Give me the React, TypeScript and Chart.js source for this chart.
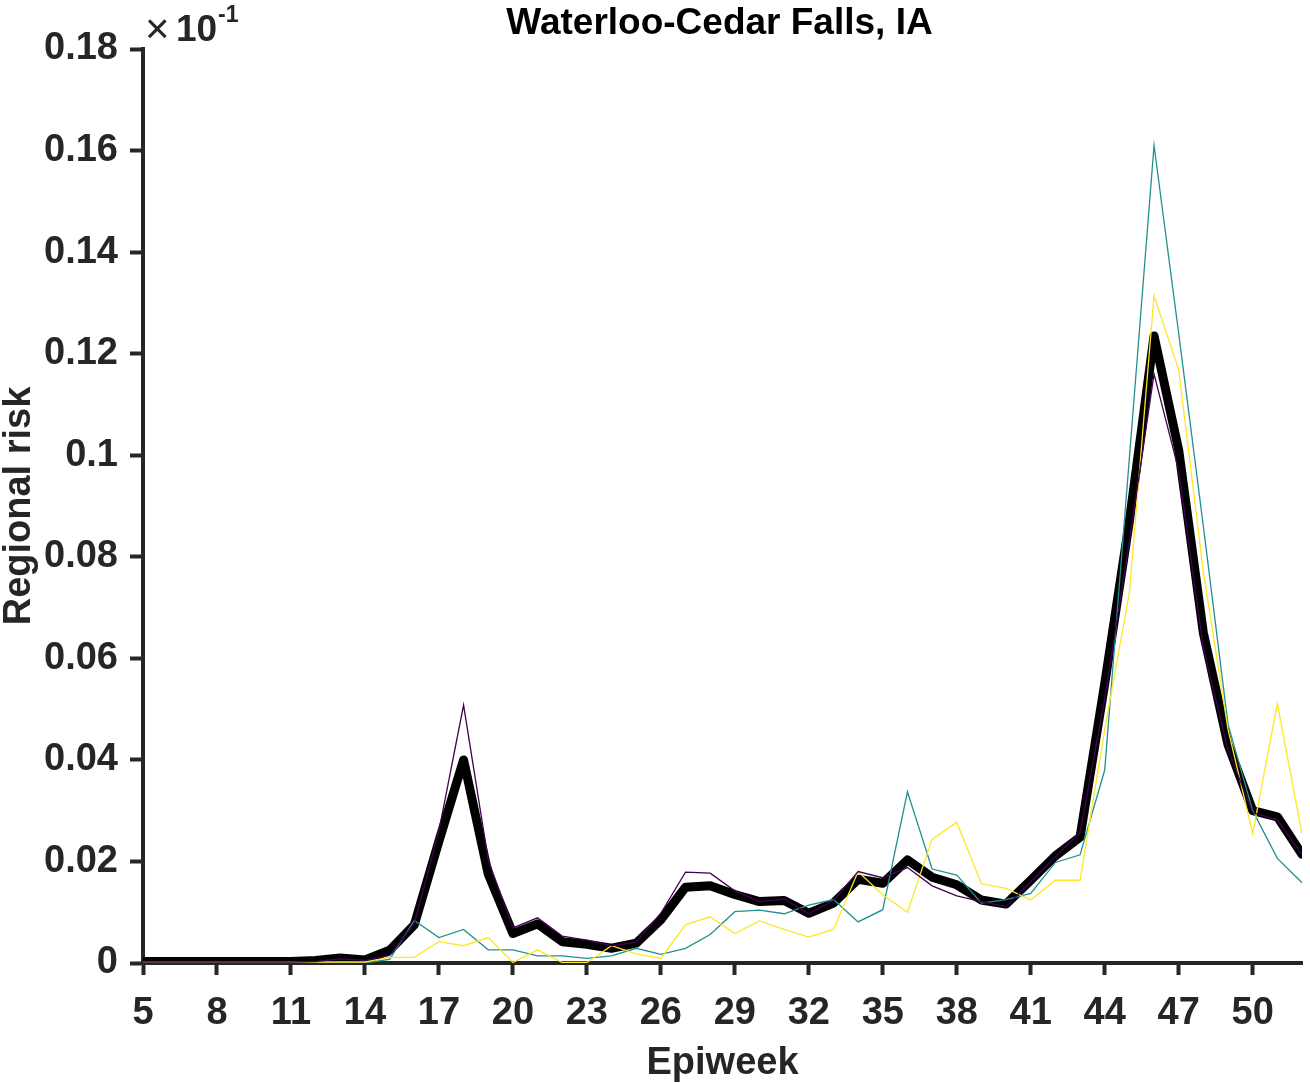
import React, { useEffect, useRef } from 'react';
import { Chart, registerables } from 'chart.js';

Chart.register(...registerables);

const titleText = 'Waterloo-Cedar Falls, IA';
const xAxisLabel = 'Epiweek';
const yAxisLabel = 'Regional risk';
const multiplierBase = '10';
const multiplierExp = '-1';

const weeks = [5, 6, 7, 8, 9, 10, 11, 12, 13, 14, 15, 16, 17, 18, 19, 20, 21, 22, 23, 24, 25, 26, 27, 28,
  29, 30, 31, 32, 33, 34, 35, 36, 37, 38, 39, 40, 41, 42, 43, 44, 45, 46, 47, 48, 49, 50, 51, 52];

const xTickValues = [5, 8, 11, 14, 17, 20, 23, 26, 29, 32, 35, 38, 41, 44, 47, 50];
const yTickValues = [0, 0.02, 0.04, 0.06, 0.08, 0.1, 0.12, 0.14, 0.16, 0.18];
const yTickLabels = ['0', '0.02', '0.04', '0.06', '0.08', '0.1', '0.12', '0.14', '0.16', '0.18'];

// weeks 5..52
const purpleSeries = [0.0002, 0.0002, 0.0002, 0.0002, 0.0002, 0.0002, 0.0002, 0.0003, 0.0008, 0.0005,
  0.0015, 0.0078, 0.026, 0.0508, 0.0203, 0.0069, 0.0089, 0.0053, 0.0045, 0.0034, 0.0041, 0.0098,
  0.0179, 0.0177, 0.0142, 0.0121, 0.0126, 0.0097, 0.0123, 0.018, 0.0168, 0.0188, 0.0152, 0.0132,
  0.0121, 0.0111, 0.016, 0.0209, 0.0257, 0.052, 0.083, 0.116, 0.097, 0.062, 0.042, 0.0296, 0.0282, 0.0213];

const tealSeries = [0, 0, 0, 0, 0, 0, 0, 0, 0, 0,
  0.0007, 0.0084, 0.005, 0.0066, 0.0026, 0.0026, 0.0014, 0.0014, 0.0009, 0.0014, 0.0029, 0.0017,
  0.0029, 0.0056, 0.0101, 0.0104, 0.0097, 0.0114, 0.0125, 0.0081, 0.0105, 0.0337, 0.0185, 0.0173,
  0.0118, 0.0125, 0.0137, 0.0198, 0.0213, 0.038, 0.0995, 0.161, 0.124, 0.086, 0.047, 0.03, 0.0206, 0.0158];

const yellowSeries = [0.0002, 0.0002, 0.0002, 0.0002, 0.0002, 0.0002, 0.0002, 0.0002, 0.0002, 0.0002,
  0.0011, 0.0011, 0.0042, 0.0034, 0.005, 0.0001, 0.0026, 0.0001, 0.0001, 0.0034, 0.0018, 0.0009,
  0.0075, 0.0091, 0.0058, 0.0083, 0.0066, 0.0051, 0.0066, 0.018, 0.0134, 0.01, 0.0244, 0.0277,
  0.0156, 0.0147, 0.0124, 0.0163, 0.0163, 0.046, 0.073, 0.1314, 0.1168, 0.077, 0.046, 0.0255, 0.0511, 0.0254];

const blackSeries = [0.0003, 0.0003, 0.0003, 0.0003, 0.0003, 0.0003, 0.0003, 0.0005, 0.001, 0.0006,
  0.0025, 0.0075, 0.024, 0.04, 0.0175, 0.0058, 0.0077, 0.0042, 0.0037, 0.0029, 0.0039, 0.0085,
  0.0149, 0.0152, 0.0135, 0.0121, 0.0123, 0.0098, 0.0118, 0.0165, 0.0157, 0.0203, 0.0169, 0.0154,
  0.0124, 0.0116, 0.0163, 0.0211, 0.0248, 0.055, 0.087, 0.1235, 0.101, 0.065, 0.043, 0.03, 0.0288, 0.0214];

const FONT_FAMILY = '"Liberation Sans", Arial, Helvetica, sans-serif';
const AXIS_COLOR = '#262626';

const toPoints = (vals: number[]) => vals.map((v, i) => ({ x: weeks[i], y: v }));

const textPlugin = {
  id: 'matlabTexts',
  afterDraw(chart: any) {
    const { ctx, chartArea } = chart;
    ctx.save();
    // title
    ctx.fillStyle = '#000000';
    ctx.font = `bold 37px ${FONT_FAMILY}`;
    ctx.textAlign = 'center';
    ctx.textBaseline = 'alphabetic';
    ctx.fillText(titleText, (chartArea.left + chartArea.right) / 2 - 3, 34);
    // multiplier x10^-1
    ctx.fillStyle = AXIS_COLOR;
    ctx.textAlign = 'left';
    ctx.font = `42px ${FONT_FAMILY}`;
    ctx.fillText('\u00d7', chartArea.left + 2, chartArea.top - 6);
    ctx.font = `bold 37px ${FONT_FAMILY}`;
    ctx.fillText(multiplierBase, chartArea.left + 33, chartArea.top - 8);
    ctx.font = `bold 23px ${FONT_FAMILY}`;
    ctx.fillText(multiplierExp, chartArea.left + 75, chartArea.top - 27);
    ctx.restore();
  },
};

export default function App() {
  const canvasRef = useRef<HTMLCanvasElement | null>(null);

  useEffect(() => {
    const canvas = canvasRef.current;
    if (!canvas) return;
    const tickFont = { family: FONT_FAMILY, size: 38, weight: 'bold' as const };
    const chart = new Chart(canvas, {
      type: 'line',
      data: {
        datasets: [
          {
            label: 'purple',
            data: toPoints(purpleSeries),
            borderColor: '#440154',
            borderWidth: 1.3,
            pointRadius: 0,
            tension: 0,
            fill: false,
          },
          {
            label: 'yellow',
            data: toPoints(yellowSeries),
            borderColor: '#fde725',
            borderWidth: 1.3,
            pointRadius: 0,
            tension: 0,
            fill: false,
          },
          {
            label: 'teal',
            data: toPoints(tealSeries),
            borderColor: '#21918c',
            borderWidth: 1.3,
            pointRadius: 0,
            tension: 0,
            fill: false,
          },
          {
            label: 'black',
            data: toPoints(blackSeries),
            borderColor: '#000000',
            borderWidth: 9,
            borderJoinStyle: 'round',
            borderCapStyle: 'round',
            pointRadius: 0,
            tension: 0,
            fill: false,
          },
        ],
      },
      options: {
        responsive: false,
        animation: false,
        devicePixelRatio: 1,
        layout: { padding: { top: 49, right: 8, left: 0, bottom: 0 } },
        plugins: {
          legend: { display: false },
          tooltip: { enabled: false },
          title: { display: false },
        },
        scales: {
          x: {
            type: 'linear',
            min: 5,
            max: 52,
            afterBuildTicks: (s: any) => {
              s.ticks = xTickValues.map((v) => ({ value: v }));
            },
            afterFit: (s: any) => {
              s.height = 120;
            },
            ticks: {
              autoSkip: false,
              maxRotation: 0,
              minRotation: 0,
              padding: 16,
              color: AXIS_COLOR,
              font: tickFont,
              callback: (v: any) => String(v),
            },
            grid: {
              display: true,
              drawOnChartArea: false,
              drawTicks: true,
              tickLength: 12,
              tickWidth: 4,
              tickColor: AXIS_COLOR,
              color: AXIS_COLOR,
            },
            border: { display: true, color: AXIS_COLOR, width: 4 },
            title: {
              display: true,
              text: xAxisLabel,
              color: AXIS_COLOR,
              font: tickFont,
              padding: { top: 0, bottom: -3 },
            },
          },
          y: {
            type: 'linear',
            min: 0,
            max: 0.18,
            afterBuildTicks: (s: any) => {
              s.ticks = yTickValues.map((v) => ({ value: v }));
            },
            afterFit: (s: any) => {
              s.width = 143;
            },
            ticks: {
              padding: 12,
              color: AXIS_COLOR,
              font: tickFont,
              callback: (_v: any, i: number) => yTickLabels[i],
            },
            grid: {
              display: true,
              drawOnChartArea: false,
              drawTicks: true,
              tickLength: 13,
              tickWidth: 4,
              tickColor: AXIS_COLOR,
              color: AXIS_COLOR,
            },
            border: { display: true, color: AXIS_COLOR, width: 4 },
            title: {
              display: true,
              text: yAxisLabel,
              color: AXIS_COLOR,
              font: tickFont,
              padding: { top: -3, bottom: 0 },
            },
          },
        },
      },
      plugins: [textPlugin],
    });
    return () => chart.destroy();
  }, []);

  return (
    <div style={{ position: 'absolute', left: 0, top: 0, width: 1310, height: 1083, background: '#ffffff' }}>
      <canvas ref={canvasRef} width={1310} height={1083} style={{ display: 'block', width: 1310, height: 1083 }} />
    </div>
  );
}
